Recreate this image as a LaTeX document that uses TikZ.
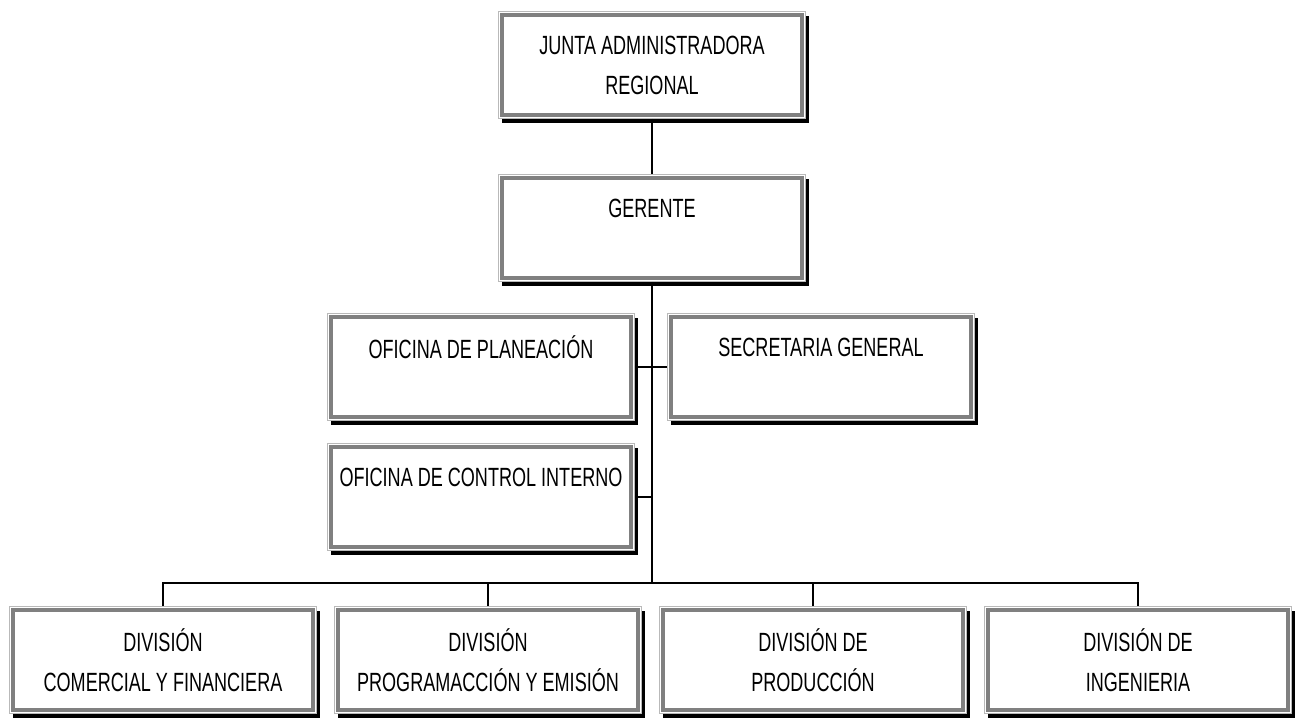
\documentclass[tikz,border=0pt]{standalone}
\usepackage{fontspec}
\setmainfont{Liberation Sans}[FakeStretch=0.685]
\usetikzlibrary{shadows}

\begin{document}
\begin{tikzpicture}[x=0.02cm,y=-0.02cm,line width=0.7pt,
	box/.style={rectangle,draw=gray!55,line width=0.5pt,fill=white,
		minimum width=6.14cm,minimum height=2.14cm,align=center,
		font=\fontsize{15}{22.7}\selectfont,
		drop shadow={shadow xshift=2.2pt,shadow yshift=-2.8pt,fill=black,opacity=1},
		path picture={\draw[gray,line width=2.4pt]
			([shift={(2.1pt,-2.1pt)}]path picture bounding box.north west) rectangle
			([shift={(-2.1pt,2.1pt)}]path picture bounding box.south east);}}]
	
	\useasboundingbox (0,0) rectangle (1295,719);
	
	\node[box] (junta) at (652,65) {JUNTA ADMINISTRADORA\\REGIONAL};
	\node[box] (gerente) at (652,228) {GERENTE\\~};
	\node[box] (plan) at (481,367) {OFICINA DE PLANEACIÓN\\~};
	\node[box] (secr) at (821,367) {SECRETARIA GENERAL\\~};
	\node[box] (control) at (481,497) {OFICINA DE CONTROL INTERNO\\~};
	\node[box] (comercial) at (163,660) {DIVISIÓN\\COMERCIAL Y FINANCIERA};
	\node[box] (program) at (488,660) {DIVISIÓN\\PROGRAMACCIÓN Y EMISIÓN};
	\node[box] (produccion) at (813,660) {DIVISIÓN DE\\PRODUCCIÓN};
	\node[box] (ingenieria) at (1138,660) {DIVISIÓN DE\\INGENIERIA};
	\coordinate (bus) at (652,583);
	
	\draw (junta) -- (gerente);
	\draw (gerente) -- (bus);
	\draw (plan.east) -- (secr.west);
	\draw (control.east) -- (control.east -| bus);
	\draw (bus) -| (comercial.north);
	\draw (bus) -| (program.north);
	\draw (bus) -| (produccion.north);
	\draw (bus) -| (ingenieria.north);
\end{tikzpicture}
\end{document}
